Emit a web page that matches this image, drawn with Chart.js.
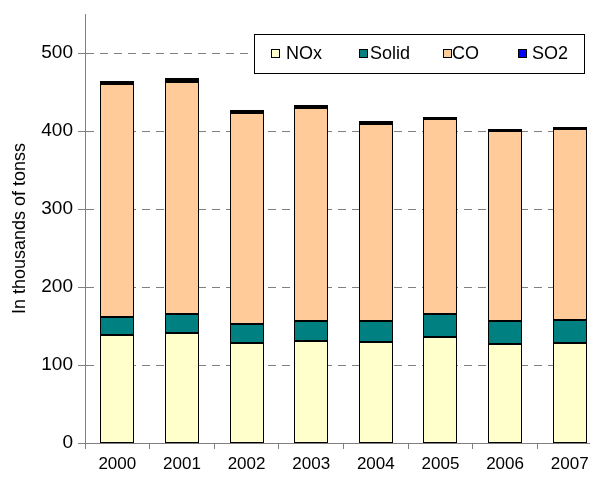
<!DOCTYPE html>
<html>
<head>
<meta charset="utf-8">
<script src="https://cdn.jsdelivr.net/npm/chart.js@4.4.1/dist/chart.umd.min.js"></script>
<style>
  html, body { margin: 0; padding: 0; background: #fff; overflow: hidden; }
  #wrap { width: 590px; height: 477px; overflow: hidden; position: relative; }
  #c { position: absolute; left: 0; top: 0; }
</style>
</head>
<body>
<div id="wrap"><canvas id="c" width="610" height="477"></canvas></div>
<script>
// Emissions by pollutant, thousands of tonnes
const years = ['2000', '2001', '2002', '2003', '2004', '2005', '2006', '2007'];
const noxValues   = [139, 141, 128, 131, 130, 136, 127, 128];
const solidValues = [22, 25, 24, 26, 26, 29, 30, 30];
const coValues    = [299, 297, 271, 272, 253, 250, 243, 244];
const so2Values   = [4, 5, 4, 4, 4, 3, 2, 3];
const yTickValues = [0, 100, 200, 300, 400, 500];

const FONT = '"Liberation Sans", Arial, Helvetica, sans-serif';
const AXIS_GREY = '#808080';

// Snap bar edges to whole pixels so the black outlines stay crisp
const crispBars = {
  id: 'crispBars',
  beforeDatasetsDraw(chart) {
    chart.data.datasets.forEach((ds, i) => {
      chart.getDatasetMeta(i).data.forEach(el => {
        const half = el.width / 2;
        el.x = Math.round(el.x - half) + half;
        el.y = Math.round(el.y);
        el.base = Math.round(el.base);
      });
    });
  }
};

// Boxed legend drawn inside the plot area, top right
const boxLegend = {
  id: 'boxLegend',
  afterDraw(chart) {
    const ctx = chart.ctx;
    const x0 = 254, y0 = 34, w = 330, h = 39;
    const boxX = [271, 359, 443, 518];
    const textX = [286, 370, 452, 532];
    ctx.save();
    ctx.fillStyle = '#fff';
    ctx.fillRect(x0, y0, w, h);
    ctx.strokeStyle = '#000';
    ctx.lineWidth = 1;
    ctx.strokeRect(x0 + 0.5, y0 + 0.5, w, h);
    ctx.font = '18px ' + FONT;
    ctx.textBaseline = 'middle';
    ctx.textAlign = 'left';
    const cy = 53;
    chart.data.datasets.forEach((ds, i) => {
      const x = boxX[i];
      ctx.fillStyle = ds.backgroundColor;
      ctx.fillRect(x, cy - 4, 8, 8);
      ctx.strokeStyle = '#000';
      ctx.lineWidth = 1;
      ctx.strokeRect(x + 0.5, cy - 3.5, 8, 8);
      ctx.fillStyle = '#000';
      ctx.fillText(ds.label, textX[i], cy + 1);
    });
    ctx.restore();
  }
};

const barCommon = {
  borderColor: '#000',
  borderWidth: 1,
  borderSkipped: false,
  inflateAmount: 0,
  barThickness: 34
};

new Chart(document.getElementById('c'), {
  type: 'bar',
  data: {
    labels: years,
    datasets: [
      Object.assign({ label: 'NOx',   data: noxValues,   backgroundColor: '#FFFFCC' }, barCommon),
      Object.assign({ label: 'Solid', data: solidValues, backgroundColor: '#008080' }, barCommon),
      Object.assign({ label: 'CO',    data: coValues,    backgroundColor: '#FFCC99' }, barCommon),
      Object.assign({ label: 'SO2',   data: so2Values,   backgroundColor: '#0000FF' }, barCommon, { borderWidth: 3 })
    ]
  },
  options: {
    responsive: false,
    devicePixelRatio: 1,
    animation: false,
    layout: { padding: { top: 14, left: 0, right: 8, bottom: 0 } },
    plugins: {
      legend: { display: false },
      tooltip: { enabled: false }
    },
    scales: {
      x: {
        stacked: true,
        grid: {
          offset: true,
          drawOnChartArea: false,
          tickLength: 6,
          tickColor: AXIS_GREY
        },
        border: { color: AXIS_GREY, width: 1 },
        ticks: { color: '#000', font: { family: FONT, size: 17 }, padding: 5, maxRotation: 0 },
        afterFit(scale) { scale.height = 34; }
      },
      y: {
        stacked: true,
        min: 0,
        max: 550,
        ticks: {
          stepSize: 100,
          color: '#000',
          font: { family: FONT, size: 19 },
          padding: 5
        },
        afterBuildTicks(scale) {
          scale.ticks = scale.ticks.filter(t => yTickValues.includes(t.value));
        },
        grid: {
          color: (ctx) => (ctx.tick && ctx.tick.value === 0) ? 'rgba(0,0,0,0)' : AXIS_GREY,
          tickColor: AXIS_GREY,
          tickLength: 7,
          tickBorderDash: []
        },
        border: { color: AXIS_GREY, width: 1, dash: [8, 6] },
        title: {
          display: true,
          text: 'In thousands of tonss',
          color: '#000',
          font: { family: FONT, size: 18 },
          padding: { top: 9, bottom: 0 }
        },
        afterFit(scale) {
          scale.width = 85;
          scale.paddingTop = 0;
          scale.paddingBottom = 0;
        }
      }
    }
  },
  plugins: [crispBars, boxLegend]
});
</script>
</body>
</html>
